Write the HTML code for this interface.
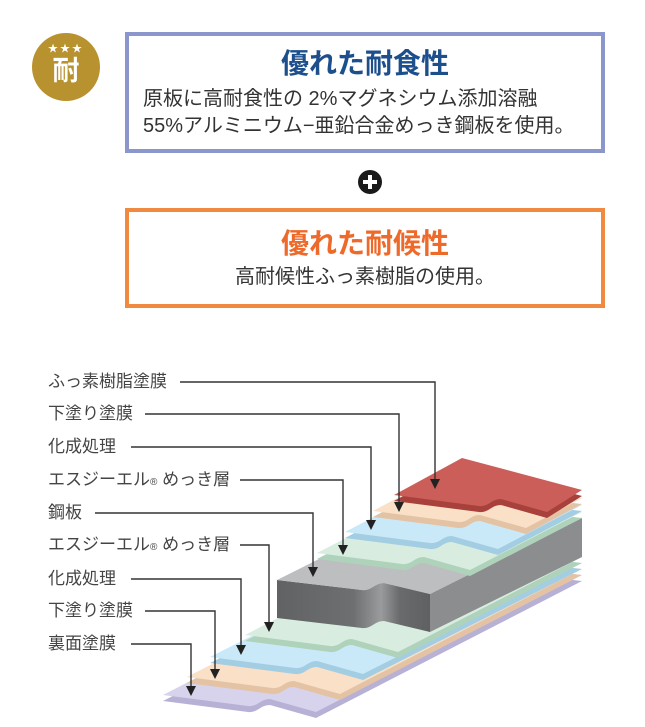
<!DOCTYPE html>
<html><head><meta charset="utf-8"><style>
body{margin:0;background:#fff;width:645px;height:727px;overflow:hidden;position:relative;font-family:"Liberation Sans","Noto Sans CJK JP",sans-serif}
.box{position:absolute;left:125px;width:472px;background:#fff}
.t{position:absolute;white-space:nowrap}
.lb{position:absolute;left:48px;font-size:17px;color:#444;white-space:nowrap;line-height:20px}
</style></head><body>
<div style="position:absolute;left:32px;top:33px;width:68px;height:68px;border-radius:50%;background:#b8922e"></div>
<div class="t" style="left:38px;top:40px;width:56px;text-align:center;color:#fff;font-size:10px;letter-spacing:2px">★★★</div>
<div class="t" style="left:38px;top:54px;width:56px;text-align:center;color:#fff;font-size:27px;font-weight:bold;line-height:34px">耐</div>

<div class="box" style="top:32px;height:113px;border:4px solid #8b96cc"></div>
<div class="t" style="left:125px;width:480px;top:46px;text-align:center;font-size:28px;font-weight:bold;color:#1d4f8c;line-height:36px">優れた耐食性</div>
<div class="t" style="left:143px;top:86px;font-size:20px;color:#333;line-height:27px">原板に高耐食性の 2%マグネシウム添加溶融<br>55%アルミニウム−亜鉛合金めっき鋼板を使用。</div>

<div style="position:absolute;left:358px;top:170px;width:24px;height:24px;border-radius:50%;background:#1a1a1a"></div>
<div style="position:absolute;left:363px;top:180px;width:14px;height:4px;background:#fff"></div>
<div style="position:absolute;left:368px;top:175px;width:4px;height:14px;background:#fff"></div>

<div class="box" style="top:208px;height:92px;border:4px solid #f08a40"></div>
<div class="t" style="left:125px;width:480px;top:226px;text-align:center;font-size:28px;font-weight:bold;color:#ee6a2a;line-height:36px">優れた耐候性</div>
<div class="t" style="left:125px;width:480px;top:264px;text-align:center;font-size:20px;color:#333;line-height:27px">高耐候性ふっ素樹脂の使用。</div>

<div class="lb" style="top:372px">ふっ素樹脂塗膜</div>
<div class="lb" style="top:404px">下塗り塗膜</div>
<div class="lb" style="top:437px">化成処理</div>
<div class="lb" style="top:470px">エスジーエル<span style="font-size:10px">®</span> めっき層</div>
<div class="lb" style="top:503px">鋼板</div>
<div class="lb" style="top:535px">エスジーエル<span style="font-size:10px">®</span> めっき層</div>
<div class="lb" style="top:569px">化成処理</div>
<div class="lb" style="top:601px">下塗り塗膜</div>
<div class="lb" style="top:634px">裏面塗膜</div>

<svg width="645" height="727" style="position:absolute;left:0;top:0">
<defs>
<linearGradient id="gf" x1="0" x2="1" y1="0" y2="0">
<stop offset="0" stop-color="#616264"/><stop offset="0.5" stop-color="#6e6f71"/><stop offset="0.68" stop-color="#9a9b9d"/><stop offset="0.8" stop-color="#6a6b6d"/><stop offset="1" stop-color="#5f6062"/></linearGradient>
</defs>
<g>
<path transform="translate(0,6)" fill="#b7b1d6" d="M163,695 L248,706 C258,707 260,699 270,699 L316,712 L582,575 L429,558 Z"/>
<path fill="#d7d3ec" d="M163,695 L248,706 C258,707 260,699 270,699 L316,712 L582,575 L429,558 Z"/>
<path transform="translate(0,6)" fill="#e3c3a3" d="M187,677 L272,688 C282,689 284,681 294,681 L340,694 L582,569 L429,552 Z"/>
<path fill="#f9e0c7" d="M187,677 L272,688 C282,689 284,681 294,681 L340,694 L582,569 L429,552 Z"/>
<path transform="translate(0,6)" fill="#a3cde2" d="M210,657 L295,668 C305,669 307,661 317,661 L363,674 L582,563 L429,546 Z"/>
<path fill="#c9e9f8" d="M210,657 L295,668 C305,669 307,661 317,661 L363,674 L582,563 L429,546 Z"/>
<path transform="translate(0,6)" fill="#afd2bb" d="M245,635 L330,646 C340,647 342,639 352,639 L398,652 L582,557 L429,540 Z"/>
<path fill="#d8ede0" d="M245,635 L330,646 C340,647 342,639 352,639 L398,652 L582,557 L429,540 Z"/>

<path fill="url(#gf)" d="M277,580 L362,590 C372,591 374,583 384,583 L430,594 L430,632 L384,621 C374,621 372,629 362,628 L277,618 Z"/>
<polygon fill="#8c8d8f" points="430,594 582,518 582,557 430,632"/>
<path fill="#bdbec0" d="M277,580 L362,590 C372,591 374,583 384,583 L430,594 L582,518 L429,504 Z"/>

<path transform="translate(0,6)" fill="#afd2bb" d="M317,553 L402,564 C412,565 414,557 424,557 L470,570 L582,512 L429,495 Z"/>
<path fill="#d8ede0" d="M317,553 L402,564 C412,565 414,557 424,557 L470,570 L582,512 L429,495 Z"/>
<path transform="translate(0,6)" fill="#a3cde2" d="M345,532 L430,543 C440,544 442,536 452,536 L498,549 L582,505 L429,488 Z"/>
<path fill="#c9e9f8" d="M345,532 L430,543 C440,544 442,536 452,536 L498,549 L582,505 L429,488 Z"/>
<path transform="translate(0,6)" fill="#e3c3a3" d="M373,511 L458,522 C468,523 470,515 480,515 L526,528 L582,498 L429,481 Z"/>
<path fill="#f9e0c7" d="M373,511 L458,522 C468,523 470,515 480,515 L526,528 L582,498 L429,481 Z"/>
<path transform="translate(0,6)" fill="#a8403c" d="M394,495 L479,506 C489,507 491,499 501,499 L547,512 L582,490 L462,458 Z"/>
<path fill="#cb5e58" d="M394,495 L479,506 C489,507 491,499 501,499 L547,512 L582,490 L462,458 Z"/>
</g>
<g stroke="#333" stroke-width="1.4" fill="none">
<polyline points="180,382 435,382 435,480"/>
<polyline points="145,414 399,414 399,503"/>
<polyline points="131,447 371,447 371,521"/>
<polyline points="240,480 343,480 343,546"/>
<polyline points="95,513 313,513 313,568"/>
<polyline points="240,545 269,545 269,623"/>
<polyline points="131,579 241,579 241,646"/>
<polyline points="145,611 215,611 215,670"/>
<polyline points="131,644 191,644 191,687"/>
</g>
<g fill="#222">
<polygon points="430,479 440,479 435,489"/>
<polygon points="394,502 404,502 399,512"/>
<polygon points="366,520 376,520 371,530"/>
<polygon points="338,545 348,545 343,555"/>
<polygon points="308,567 318,567 313,577"/>
<polygon points="264,622 274,622 269,632"/>
<polygon points="236,645 246,645 241,655"/>
<polygon points="210,669 220,669 215,679"/>
<polygon points="186,686 196,686 191,696"/>
</g>
</svg>
</body></html>
